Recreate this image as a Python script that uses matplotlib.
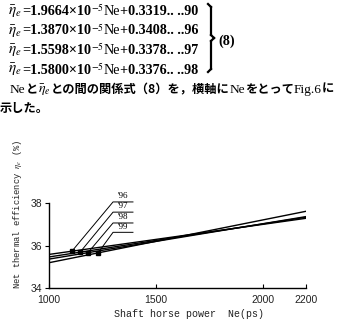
import matplotlib
matplotlib.use('Agg')
from matplotlib import pyplot as plt
from matplotlib.lines import Line2D

plt.rcParams['mathtext.fontset'] = 'stix'

W, H = 337, 323

# equation (8) coefficients as printed
eq_slopes = ['1.9664', '1.3870', '1.5598', '1.5800']
eq_consts = ['0.3319', '0.3408', '0.3378', '0.3376']
eq_years = ['90', '96', '97', '98']

# chart data read from Fig.6 (Ne in ps, efficiency in %)
years = ["'96", "'97", "'98", "'99"]
ne_start = [1000, 1000, 1000, 1000]
ne_end = [2200, 2200, 2200, 2200]
eff_start = [35.58, 35.46, 35.36, 35.19]
eff_end = [37.28, 37.33, 37.36, 37.61]
marker_ne = [1107, 1145, 1182, 1229]
label_eff = [38.05, 37.57, 37.06, 36.62]
x_ticks = [1000, 1500, 2000, 2200]
y_ticks = [34, 36, 38]

fig = plt.figure(figsize=(W / 100, H / 100), dpi=100)
renderer = fig.canvas.get_renderer()

serif_b = dict(family='Liberation Serif', weight='bold', size=10.2)
serif = dict(family='Liberation Serif', size=10.2)
serif_s = dict(family='Liberation Serif', size=9.6)
jp = dict(family=['Noto Sans CJK JP', 'DejaVu Sans'], weight='bold', size=8.8)


def put_pieces(x, y, pieces):
    '''Write text pieces one after the other on a baseline (pixel coords).'''
    for s, kw in pieces:
        t = fig.text(x / W, 1 - y / H, s, ha='left', va='baseline', **kw)
        x += t.get_window_extent(renderer=renderer).width
    return x


eta = r'$\bar{\eta}_e$'
for i, (a, b, yr) in enumerate(zip(eq_slopes, eq_consts, eq_years)):
    put_pieces(8, 15 + i * 19.5, [
        (eta, dict(size=11)),
        ('=' + a + '×10', serif_b),
        (r'$^{-5}$', dict(size=10)),
        ('Ne', serif),
        ('+' + b + '.. ..' + yr, serif_b),
    ])

# right brace of equation block
bx = 211
brace = [((bx - 3, 4), (bx, 7)), ((bx, 7), (bx, 35)), ((bx, 35), (bx + 3, 38)),
         ((bx + 3, 38), (bx, 41)), ((bx, 41), (bx, 69)), ((bx, 69), (bx - 3, 72))]
for (x0, y0), (x1, y1) in brace:
    fig.add_artist(Line2D([x0 / W, x1 / W], [1 - y0 / H, 1 - y1 / H],
                          transform=fig.transFigure, color='black', lw=1.6))
fig.text(218 / W, 1 - 45 / H, '(8)', ha='left', va='baseline', **serif_b)

put_pieces(10, 93, [
    ('Ne', serif_s),
    ('と', jp),
    (eta, dict(size=10)),
    ('との間の関係式（8）を，横軸に', jp),
    ('Ne', serif_s),
    ('をとって', jp),
    ('Fig.6', serif_s),
    ('に', jp),
])
put_pieces(0, 112, [('示した。', jp)])

# Fig.6
ax = fig.add_axes([49 / W, 1 - 288 / H, (306 - 49) / W, (288 - 203) / H])
for i in range(len(years)):
    ax.plot([ne_start[i], ne_end[i]], [eff_start[i], eff_end[i]],
            color='black', lw=1.0)
    my = eff_start[i] + (eff_end[i] - eff_start[i]) * \
        (marker_ne[i] - ne_start[i]) / (ne_end[i] - ne_start[i])
    ax.plot([marker_ne[i]], [my], 's', color='black', ms=2.2, clip_on=False)
    ax.plot([marker_ne[i], 1299, 1392], [my, label_eff[i], label_eff[i]],
            color='black', lw=0.7, clip_on=False)
    ax.text(1320, label_eff[i] + 0.08, years[i], ha='left', va='bottom',
            family='Liberation Serif', size=6.5)

ax.set_xlim(1000, 2200)
ax.set_ylim(34, 38)
ax.set_xticks(x_ticks)
ax.set_yticks(y_ticks)
ax.spines['top'].set_visible(False)
ax.spines['right'].set_visible(False)
ax.spines['left'].set_linewidth(1.0)
ax.spines['bottom'].set_linewidth(1.0)
ax.tick_params(axis='x', direction='in', length=3, labelsize=7.5, pad=5)
ax.tick_params(axis='y', direction='out', length=3, labelsize=7.5, pad=2)
for lab in ax.get_xticklabels() + ax.get_yticklabels():
    lab.set_family('Liberation Sans')
    lab.set_color('#222222')
ax.patch.set_alpha(0)

fig.text(189 / W, 1 - 314 / H, 'Shaft horse power  Ne(ps)', ha='center',
         va='center', family='Liberation Mono', size=7.2, color='#222222')
fig.text(18 / W, 1 - 214 / H, r'Net thermal efficiency $\eta_e$ (%)',
         ha='center', va='center', rotation=90, family='Liberation Mono',
         size=6.3, color='#222222')

fig.savefig('out.png', dpi=100)
